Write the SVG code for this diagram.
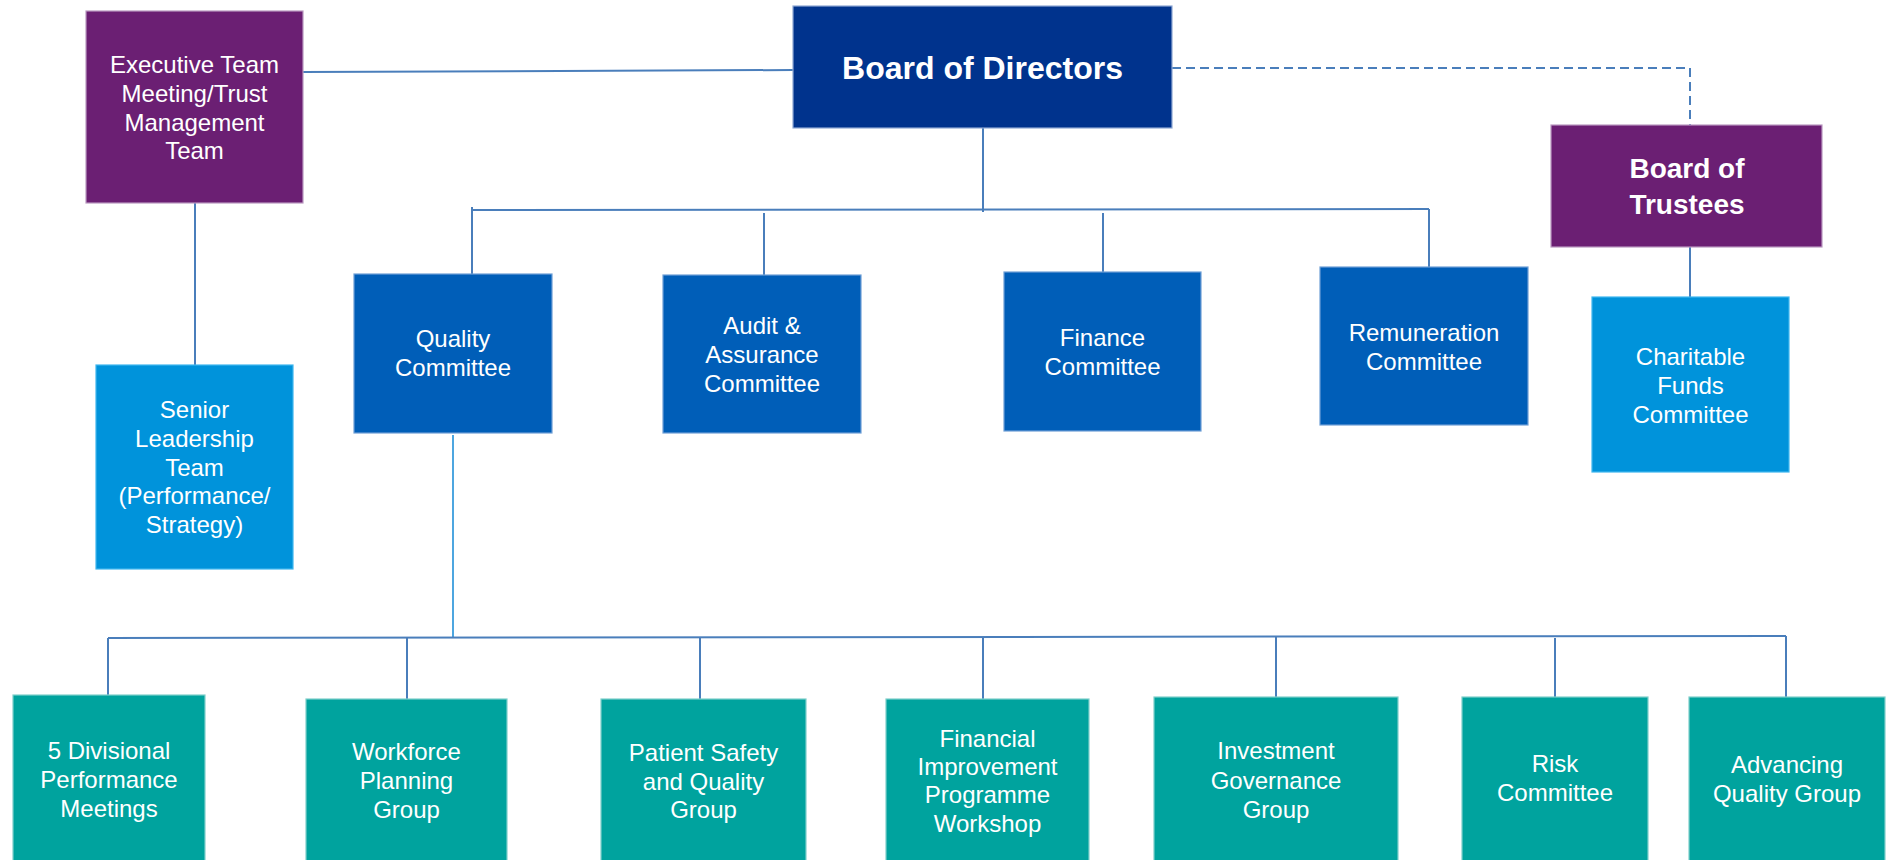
<svg xmlns="http://www.w3.org/2000/svg" width="1892" height="860" viewBox="0 0 1892 860">
<style>
.box{stroke-width:1.2}
.purple{fill:#6B1F73;stroke:#B998C0}
.navy{fill:#00338D;stroke:#8FA8D4}
.blue{fill:#005EB8;stroke:#6E9FD6}
.light{fill:#0093DB;stroke:#3FB6EE}
.teal{fill:#00A39E;stroke:#7FCFCB}
text{font-family:"Liberation Sans",Arial,sans-serif;fill:#ffffff;text-anchor:middle}
.t{font-size:24px}
.b1{font-size:32px;font-weight:bold}
.b2{font-size:28px;font-weight:bold}
.c{fill:none;stroke:#4A7EBB;stroke-width:2}
.cl{fill:none;stroke:#4DA6E0;stroke-width:2}
.d{fill:none;stroke:#4A7EBB;stroke-width:2;stroke-dasharray:9 5}
</style>
<rect width="1892" height="860" fill="#ffffff"/>
<g id="connectors">
<path class="c" d="M303 72 L793 70"/>
<path class="d" d="M1172 68 H1690 V125"/>
<path class="c" d="M195 203 V365"/>
<path class="c" d="M983 128 V212"/>
<path class="c" d="M472 210 L1429 209"/>
<path class="c" d="M472 207 V274"/>
<path class="c" d="M764 213 V275"/>
<path class="c" d="M1103 213 V272"/>
<path class="c" d="M1429 209 V267"/>
<path class="c" d="M1690 247 V297"/>
<path class="cl" d="M453 435 V638"/>
<path class="c" d="M108 638 L1786 636"/>
<path class="c" d="M108 638 V695"/>
<path class="c" d="M407 638 V699"/>
<path class="c" d="M700 637 V699"/>
<path class="c" d="M983 637 V699"/>
<path class="c" d="M1276 637 V697"/>
<path class="c" d="M1555 638 V697"/>
<path class="c" d="M1786 636 V697"/>
</g>
<g id="executive-team">
<rect class="box purple" x="86" y="11" width="217" height="192"/>
<text class="t" x="194.5" y="73">Executive Team</text>
<text class="t" x="194.5" y="102">Meeting/Trust</text>
<text class="t" x="194.5" y="131">Management</text>
<text class="t" x="194.5" y="159">Team</text>
</g>
<g id="board-of-directors">
<rect class="box navy" x="793" y="6" width="379" height="122"/>
<text class="b1" x="982.5" y="79">Board of Directors</text>
</g>
<g id="board-of-trustees">
<rect class="box purple" x="1551" y="125" width="271" height="122"/>
<text class="b2" x="1687" y="178">Board of</text>
<text class="b2" x="1687" y="214">Trustees</text>
</g>
<g id="senior-leadership">
<rect class="box light" x="96" y="365" width="197" height="204"/>
<text class="t" x="194.5" y="418">Senior</text>
<text class="t" x="194.5" y="447">Leadership</text>
<text class="t" x="194.5" y="476">Team</text>
<text class="t" x="194.5" y="504">(Performance/</text>
<text class="t" x="194.5" y="533">Strategy)</text>
</g>
<g id="quality-committee">
<rect class="box blue" x="354" y="274" width="198" height="159"/>
<text class="t" x="453" y="347">Quality</text>
<text class="t" x="453" y="376">Committee</text>
</g>
<g id="audit-committee">
<rect class="box blue" x="663" y="275" width="198" height="158"/>
<text class="t" x="762" y="334">Audit &amp;</text>
<text class="t" x="762" y="363">Assurance</text>
<text class="t" x="762" y="392">Committee</text>
</g>
<g id="finance-committee">
<rect class="box blue" x="1004" y="272" width="197" height="159"/>
<text class="t" x="1102.5" y="346">Finance</text>
<text class="t" x="1102.5" y="375">Committee</text>
</g>
<g id="remuneration-committee">
<rect class="box blue" x="1320" y="267" width="208" height="158"/>
<text class="t" x="1424" y="341">Remuneration</text>
<text class="t" x="1424" y="370">Committee</text>
</g>
<g id="charitable-funds">
<rect class="box light" x="1592" y="297" width="197" height="175"/>
<text class="t" x="1690.5" y="365">Charitable</text>
<text class="t" x="1690.5" y="394">Funds</text>
<text class="t" x="1690.5" y="423">Committee</text>
</g>
<g id="divisional-performance">
<rect class="box teal" x="13" y="695" width="192" height="170"/>
<text class="t" x="109" y="759">5 Divisional</text>
<text class="t" x="109" y="788">Performance</text>
<text class="t" x="109" y="817">Meetings</text>
</g>
<g id="workforce-planning">
<rect class="box teal" x="306" y="699" width="201" height="166"/>
<text class="t" x="406.5" y="760">Workforce</text>
<text class="t" x="406.5" y="789">Planning</text>
<text class="t" x="406.5" y="818">Group</text>
</g>
<g id="patient-safety">
<rect class="box teal" x="601" y="699" width="205" height="166"/>
<text class="t" x="703.5" y="761">Patient Safety</text>
<text class="t" x="703.5" y="790">and Quality</text>
<text class="t" x="703.5" y="818">Group</text>
</g>
<g id="financial-improvement">
<rect class="box teal" x="886" y="699" width="203" height="166"/>
<text class="t" x="987.5" y="747">Financial</text>
<text class="t" x="987.5" y="775">Improvement</text>
<text class="t" x="987.5" y="803">Programme</text>
<text class="t" x="987.5" y="832">Workshop</text>
</g>
<g id="investment-governance">
<rect class="box teal" x="1154" y="697" width="244" height="168"/>
<text class="t" x="1276" y="759">Investment</text>
<text class="t" x="1276" y="789">Governance</text>
<text class="t" x="1276" y="818">Group</text>
</g>
<g id="risk-committee">
<rect class="box teal" x="1462" y="697" width="186" height="168"/>
<text class="t" x="1555" y="772">Risk</text>
<text class="t" x="1555" y="801">Committee</text>
</g>
<g id="advancing-quality">
<rect class="box teal" x="1689" y="697" width="196" height="168"/>
<text class="t" x="1787" y="773">Advancing</text>
<text class="t" x="1787" y="802">Quality Group</text>
</g>
</svg>
